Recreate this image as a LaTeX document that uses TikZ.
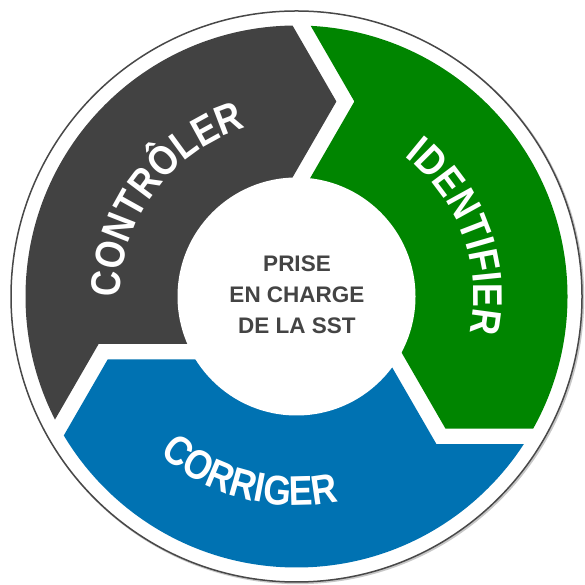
\documentclass[tikz,border=0pt]{standalone}
\usepackage{fontspec}
\setmainfont{Liberation Sans}
\newfontfamily\arcfont{Liberation Sans}[FakeStretch=0.86]
\usetikzlibrary{decorations.text}
\definecolor{segdark}{RGB}{66,66,66}
\definecolor{seggreen}{RGB}{0,133,0}
\definecolor{segblue}{RGB}{0,114,178}
\definecolor{ringline}{RGB}{72,72,72}
\definecolor{hubink}{RGB}{68,68,68}
\newcommand\arcstyle{\arcfont\bfseries\fontsize{41.5}{41.5}\selectfont}
\newcommand\hubfont{\bfseries\fontsize{22.5}{31}\selectfont}
\begin{document}
\begin{tikzpicture}[x=1pt,y=1pt]
\fill[white] (0,0) rectangle (584,585);
\useasboundingbox (0,0) rectangle (584,585);
\coordinate (c) at (296.5,288.5);
% outer ring line with faint shadow
\draw[black!22, line width=2] ([shift={(1.2,-1.2)}]c) circle (285.5pt);
\draw[ringline, line width=1.5, fill=white] (c) circle (285.5pt);
% three chevron segments
\begin{scope}[shift={(c)}]
  \clip (0,0) circle (271pt);
  \foreach \ang/\col in {0/segdark,-120/seggreen,120/segblue}{
    \fill[\col, rotate=\ang] (-29.4,315) -- (39.88,195) -- (-29.4,75) -- (0,0)
      -- (-59.25,-47.37) -- (-197.81,-47.38) -- (-267.09,-167.37)
      -- (-420,0) -- (-297,297) -- cycle;
  }
\end{scope}
% hub
\node[circle, fill=white, minimum size=238pt, inner sep=0] (hub) at (c) {};
\node[font=\hubfont, text=hubink, align=center, inner sep=0] (hubtext) at (297,290.5) {PRISE\\EN CHARGE\\DE LA SST};
% curved labels
\path[decorate, decoration={text along path, text align=center, text color=white,
  text={|\arcstyle|CONTRÔLER}}]
  ([shift={(203.4:176pt)}]c) arc[start angle=203.4, end angle=83.4, radius=176pt];
\path[decorate, decoration={text along path, text align=center, text color=white,
  text={|\arcstyle|IDENTIFIER}}]
  ([shift={(80.25:177pt)}]c) arc[start angle=80.25, end angle=-39.75, radius=177pt];
\path[decorate, decoration={text along path, text align=center, text color=white,
  text={|\arcstyle|CORRIGER}}]
  ([shift={(195.4:209pt)}]c) arc[start angle=195.4, end angle=315.4, radius=209pt];
\end{tikzpicture}
\end{document}
